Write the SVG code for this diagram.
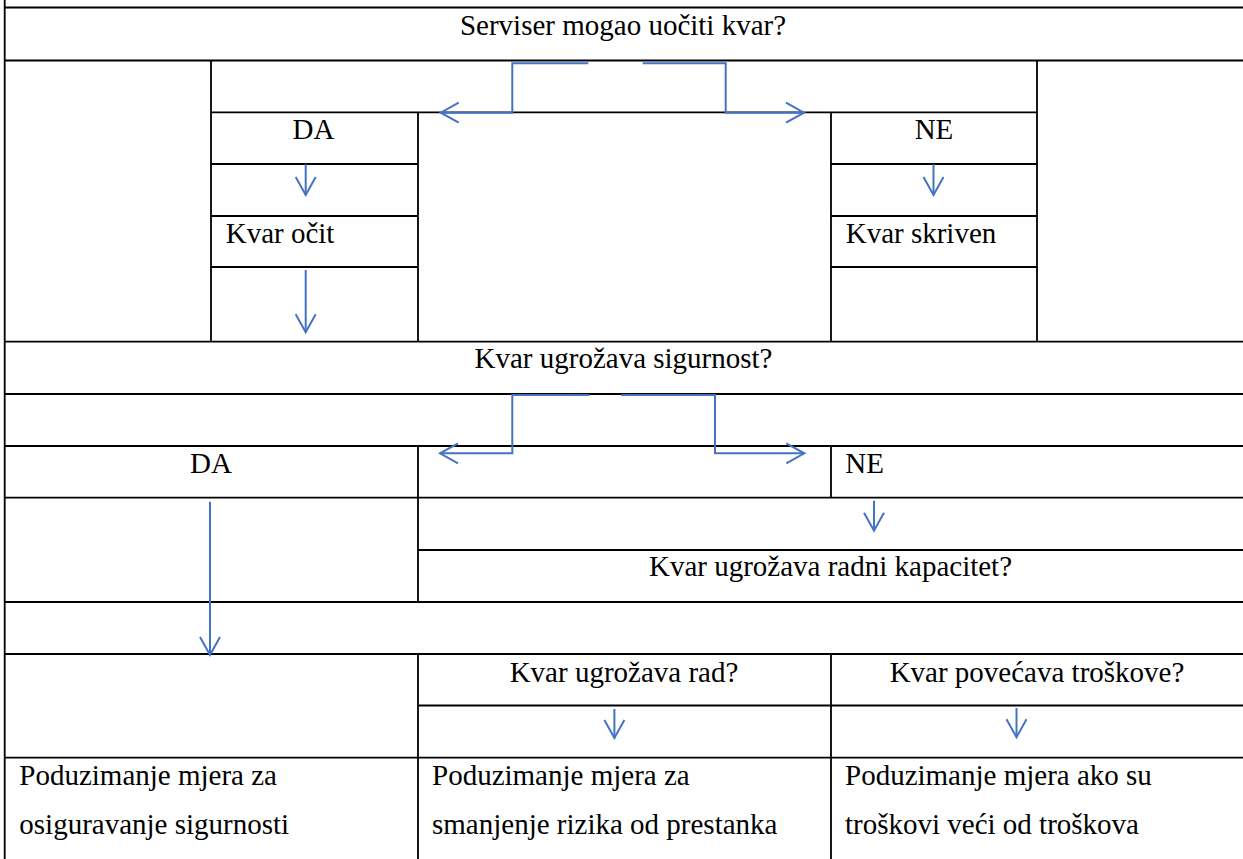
<svg xmlns="http://www.w3.org/2000/svg" width="1243" height="859" viewBox="0 0 1243 859">
<style>
  .grid { fill: none; stroke: #000; stroke-width: 1.8; }
  .conn { fill: none; stroke: #4472C4; stroke-width: 2; marker-end: url(#arr); }
  text { font-family: 'Liberation Serif', 'DejaVu Serif', serif; font-size: 29px; fill: #000; }
  .c { text-anchor: middle; }
</style>
<defs>
  <marker id="arr" viewBox="-22 -13 26 26" refX="0" refY="0" markerWidth="26" markerHeight="26" markerUnits="userSpaceOnUse" orient="auto" overflow="visible">
    <path d="M-18,-10 L0,0 L-18,10" fill="none" stroke="#4472C4" stroke-width="2"/>
  </marker>
</defs>
<rect x="0" y="0" width="1243" height="859" fill="#fff"/>
<g id="grid" class="grid">
  <path d="M4.7,7.5 H1243 M4.7,60.5 H1243 M211,112.3 H1037 M211,164 H418 M831,164 H1037 M211,216 H418 M831,216 H1037 M211,267 H418 M831,267 H1037 M4.7,341.7 H1243 M4.7,394 H1243 M4.7,446 H1243 M4.7,497.7 H1243 M418,550 H1243 M4.7,602 H1243 M4.7,654 H1243 M418,705.5 H1243 M4.7,757.7 H1243"/>
  <path d="M4.7,0 V859 M211,60.5 V341.7 M1037,60.5 V341.7 M418,112.3 V341.7 M418,446 V602 M418,654 V859 M831,112.3 V341.7 M831,446 V497.7 M831,654 V859"/>
</g>
<g id="connectors">
  <path class="conn" d="M588.3,63.3 H512.3 V112.7 H440.7"/>
  <path class="conn" d="M642.7,63.3 H725.7 V112.7 H804"/>
  <path class="conn" d="M305.7,164.3 V195"/>
  <path class="conn" d="M305.7,270 V332.3"/>
  <path class="conn" d="M933.5,164.3 V195"/>
  <path class="conn" d="M589.3,395 H512.3 V453.3 H440"/>
  <path class="conn" d="M621,395 H715 V453.3 H804.3"/>
  <path class="conn" d="M210,501.7 V655"/>
  <path class="conn" d="M874,500.7 V530.7"/>
  <path class="conn" d="M614.4,709 V738"/>
  <path class="conn" d="M1016.5,708 V737.3"/>
</g>
<g id="q1"><text font-family="'Liberation Serif', serif" class="c" x="623" y="35">Serviser mogao uočiti kvar?</text></g>
<g id="da1"><text font-family="'Liberation Serif', serif" class="c" x="313.5" y="139.3">DA</text></g>
<g id="ne1"><text font-family="'Liberation Serif', serif" class="c" x="934" y="139.3">NE</text></g>
<g id="ocit"><text font-family="'Liberation Serif', serif" x="225.7" y="242.7">Kvar očit</text></g>
<g id="skriven"><text font-family="'Liberation Serif', serif" x="845.7" y="242.7">Kvar skriven</text></g>
<g id="q2"><text font-family="'Liberation Serif', serif" class="c" x="623.5" y="368.3">Kvar ugrožava sigurnost?</text></g>
<g id="da2"><text font-family="'Liberation Serif', serif" class="c" x="211" y="472.7">DA</text></g>
<g id="ne2"><text font-family="'Liberation Serif', serif" x="845.3" y="472.7">NE</text></g>
<g id="q3"><text font-family="'Liberation Serif', serif" class="c" x="830.5" y="576">Kvar ugrožava radni kapacitet?</text></g>
<g id="q4"><text font-family="'Liberation Serif', serif" class="c" x="624" y="681.7">Kvar ugrožava rad?</text></g>
<g id="q5"><text font-family="'Liberation Serif', serif" class="c" x="1037" y="681.7">Kvar povećava troškove?</text></g>
<g id="a1"><text font-family="'Liberation Serif', serif" x="19.3" y="785">Poduzimanje mjera za</text><text font-family="'Liberation Serif', serif" x="19.3" y="834">osiguravanje sigurnosti</text></g>
<g id="a2"><text font-family="'Liberation Serif', serif" x="432" y="785">Poduzimanje mjera za</text><text font-family="'Liberation Serif', serif" x="432" y="834">smanjenje rizika od prestanka</text></g>
<g id="a3"><text font-family="'Liberation Serif', serif" x="845" y="785">Poduzimanje mjera ako su</text><text font-family="'Liberation Serif', serif" x="845" y="834">troškovi veći od troškova</text></g>
</svg>
